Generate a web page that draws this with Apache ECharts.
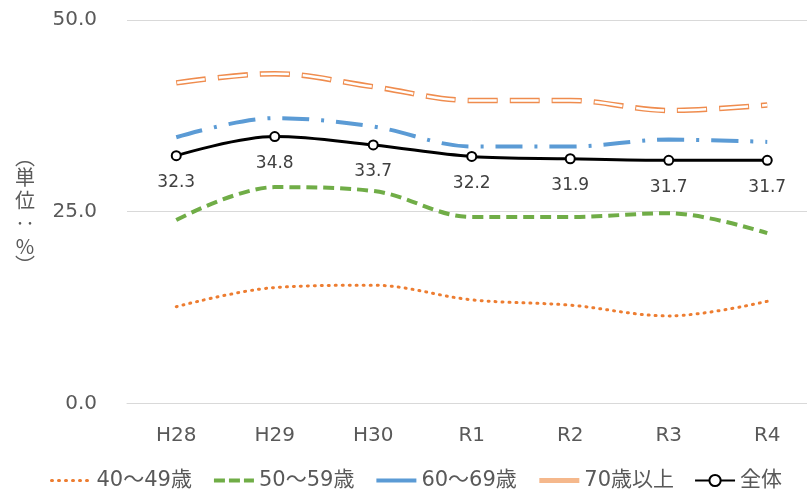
<!DOCTYPE html>
<html>
<head>
<meta charset="utf-8">
<script src="https://cdn.jsdelivr.net/npm/echarts@6/dist/echarts.min.js"></script>
<style>html,body{margin:0;padding:0;background:#fff;overflow:hidden;width:807px;height:493px;}#c{width:817px;height:493px;}</style>
</head>
<body>
<div id="c"></div>
<script>
const categories = ['H28', 'H29', 'H30', 'R1', 'R2', 'R3', 'R4'];
const s40 = [12.6, 15.1, 15.4, 13.5, 12.8, 11.4, 13.3];
const s50 = [23.9, 28.2, 27.7, 24.3, 24.3, 24.8, 22.2];
const s60 = [34.7, 37.2, 36.1, 33.5, 33.5, 34.4, 34.1];
const s70 = [41.8, 43.0, 41.3, 39.5, 39.5, 38.2, 38.9];
const sAll = [32.3, 34.8, 33.7, 32.2, 31.9, 31.7, 31.7];
const names = ['40〜49歳', '50〜59歳', '60〜69歳', '70歳以上', '全体'];
const yTicks = { min: 0, max: 50, interval: 25 };

const FONT = 'DejaVu Sans, "Noto Sans CJK JP", sans-serif';
const TXT = '#595959';
const SM = 0.35;
const noSym = { color: 'rgba(0,0,0,0)', borderColor: 'rgba(0,0,0,0)', borderWidth: 0, opacity: 0 };

const chart = echarts.init(document.getElementById('c'), null, { renderer: 'canvas' });
chart.setOption({
  animation: false,
  backgroundColor: '#fff',
  textStyle: { fontFamily: FONT },
  grid: { left: 127, right: 0.5, top: 20, bottom: 89.7, containLabel: false },
  legend: {
    left: 45, top: 465,
    itemWidth: 40, itemHeight: 14, itemGap: 20,
    textStyle: { fontFamily: FONT, fontSize: 21, color: TXT },
    data: [
      { name: names[0], itemStyle: noSym, lineStyle: { type: [1, 6], width: 3, cap: 'round' } },
      { name: names[1], itemStyle: noSym, lineStyle: { type: [11, 4], width: 4 } },
      { name: names[2], itemStyle: noSym, lineStyle: { type: 'solid', width: 4 } },
      { name: names[3], itemStyle: noSym, lineStyle: { type: 'solid', width: 5, color: '#F5B88C' } },
      { name: names[4] }
    ]
  },
  xAxis: {
    type: 'category', data: categories, boundaryGap: true,
    axisLine: { show: true, lineStyle: { color: '#D9D9D9', width: 1 } },
    axisTick: { show: false },
    axisLabel: { color: TXT, fontSize: 20, fontFamily: FONT, margin: 22 }
  },
  yAxis: {
    type: 'value', min: yTicks.min, max: yTicks.max, interval: yTicks.interval,
    axisLine: { show: false }, axisTick: { show: false },
    splitLine: { lineStyle: { color: '#D9D9D9', width: 1 } },
    axisLabel: { color: TXT, fontSize: 20, fontFamily: FONT, margin: 30, formatter: v => v.toFixed(1) },
    name: '{p|︵}\n{c|単}\n{c|位}\n{c|‥}\n{c|%}\n{p|︶}',
    nameLocation: 'middle', nameGap: 102, nameRotate: 0,
    nameTextStyle: {
      color: TXT, fontFamily: '"Noto Sans CJK JP", sans-serif', fontSize: 20, align: 'center',
      rich: {
        p: { fontSize: 20, lineHeight: 16, color: TXT, fontFamily: '"Noto Sans CJK JP", sans-serif' },
        c: { fontSize: 20, lineHeight: 23, color: TXT, fontFamily: '"Noto Sans CJK JP", sans-serif' }
      }
    }
  },
  series: [
    {
      name: names[0], type: 'line', data: s40, smooth: SM, symbol: 'none',
      lineStyle: { color: '#ED7D31', width: 3, type: [1, 6], cap: 'round' },
      itemStyle: { color: '#ED7D31' }
    },
    {
      name: names[1], type: 'line', data: s50, smooth: SM, symbol: 'none',
      lineStyle: { color: '#70AD47', width: 4, type: [11, 6] },
      itemStyle: { color: '#70AD47' }
    },
    {
      name: names[2], type: 'line', data: s60, smooth: SM, symbol: 'none',
      lineStyle: { color: '#5B9BD5', width: 4, type: [27, 12, 3, 12] },
      itemStyle: { color: '#5B9BD5' }
    },
    {
      name: names[3], type: 'line', data: s70, smooth: SM, symbol: 'none',
      lineStyle: { color: '#EF8C4E', width: 5.5, type: [30, 12] },
      itemStyle: { color: '#EF8C4E' }
    },
    {
      name: names[3] + ' ', type: 'line', data: s70, smooth: SM, symbol: 'none',
      lineStyle: { color: '#ffffff', width: 2.5, type: [28, 14], dashOffset: -1 },
      itemStyle: { color: '#ffffff' }, silent: true
    },
    {
      name: names[4], type: 'line', data: sAll, smooth: SM,
      symbol: 'circle', symbolSize: 9,
      lineStyle: { color: '#000000', width: 3 },
      itemStyle: { color: '#ffffff', borderColor: '#000000', borderWidth: 2 },
      label: {
        show: true, position: 'bottom', distance: 13,
        color: '#404040', fontSize: 17, fontFamily: FONT,
        formatter: p => p.value.toFixed(1)
      }
    }
  ]
});
</script>
</body>
</html>
